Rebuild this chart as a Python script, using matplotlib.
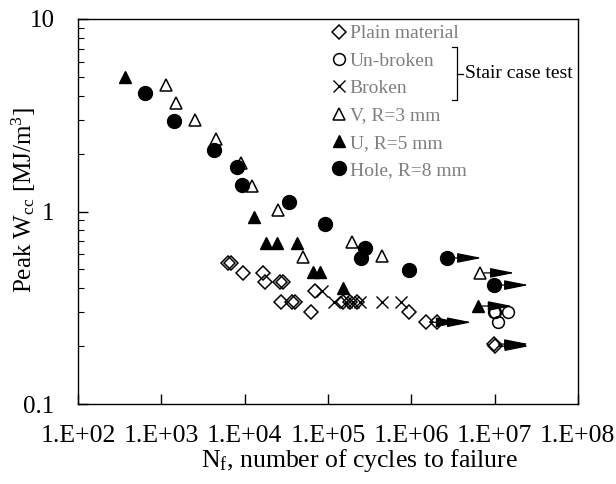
import matplotlib
matplotlib.use("Agg")
import matplotlib.pyplot as plt
from matplotlib.lines import Line2D

plt.rcParams['font.family'] = ['Liberation Serif', 'DejaVu Serif']
plt.rcParams['mathtext.fontset'] = 'custom'
plt.rcParams['mathtext.rm'] = 'Liberation Serif'
plt.rcParams['mathtext.it'] = 'Liberation Serif'

# --- data (cycles to failure, peak W_cc in MJ/m3) ---
plain_n = [6300, 6900, 9500, 16600, 17600, 26600, 29000, 27400, 37100, 40500,
           62600, 70000, 152000, 184000, 224000, 9.4e5]
plain_w = [0.54, 0.54, 0.48, 0.48, 0.43, 0.43, 0.43, 0.34, 0.34, 0.34,
           0.30, 0.385, 0.34, 0.34, 0.34, 0.30]
plain_run_n = [1.5e6, 2.04e6, 9.9e6, 1.0e7]
plain_run_w = [0.266, 0.266, 0.205, 0.20]

unbroken_n = [9.9e6, 1.0e7, 1.45e7, 1.1e7]
unbroken_w = [0.30, 0.30, 0.30, 0.267]

broken_n = [85000, 118000, 165000, 200000, 243000, 447000, 754000]
broken_w = [0.385, 0.34, 0.34, 0.34, 0.34, 0.34, 0.34]

v_n = [1140, 1500, 2540, 4540, 9060, 12300, 25100, 50000, 195000, 447000]
v_w = [4.54, 3.66, 2.99, 2.38, 1.79, 1.36, 1.02, 0.58, 0.695, 0.587]
v_run_n = [6.7e6]
v_run_w = [0.48]

u_n = [366, 13000, 18100, 24500, 42600, 66200, 80400, 152000]
u_w = [5.0, 0.935, 0.686, 0.686, 0.686, 0.485, 0.485, 0.40]
u_run_n = [6.3e6]
u_run_w = [0.323]

hole_n = [637, 1420, 4300, 8100, 9300, 34100, 92300, 279000, 250000, 9.4e5]
hole_w = [4.13, 2.95, 2.09, 1.70, 1.37, 1.12, 0.86, 0.646, 0.574, 0.497]
hole_run_n = [2.7e6, 9.9e6]
hole_run_w = [0.574, 0.415]

xtick_vals = [1e2, 1e3, 1e4, 1e5, 1e6, 1e7, 1e8]
xtick_labels = ["1.E+02", "1.E+03", "1.E+04", "1.E+05", "1.E+06", "1.E+07", "1.E+08"]
ytick_vals = [0.1, 1, 10]
ytick_labels = ["0.1", "1", "10"]

fig = plt.figure(figsize=(6.16, 4.84), dpi=100)
ax = fig.add_axes([0.127, 0.165, 0.811, 0.796])
ax.set_xscale('log')
ax.set_yscale('log')

open_kw = dict(mfc='none', mec='black', mew=1.1, ls='none')
fill_kw = dict(color='black', ls='none')

# run-out arrows first, markers on top
arrow_kw = dict(arrowstyle='-|>,head_length=1.0,head_width=0.2', color='black',
                lw=0.9, mutation_scale=15, shrinkA=0, shrinkB=0)
for nn, ww in [(plain_run_n, plain_run_w), (v_run_n, v_run_w), (u_run_n, u_run_w),
               (hole_run_n, hole_run_w)]:
    for n, w in zip(nn, ww):
        ax.annotate("", xy=(n * 2.6, w), xytext=(n * 1.12, w), arrowprops=arrow_kw, zorder=2)

ax.plot(plain_n + plain_run_n, plain_w + plain_run_w, marker='D', ms=7.5, **open_kw, zorder=3)
ax.plot(unbroken_n, unbroken_w, marker='o', ms=8.5, **open_kw, zorder=3)
ax.plot(broken_n, broken_w, marker='x', ms=9, mec='black', mew=1.0, ls='none', zorder=3)
ax.plot(v_n + v_run_n, v_w + v_run_w, marker='^', ms=9, **open_kw, zorder=3)
ax.plot(u_n + u_run_n, u_w + u_run_w, marker='^', ms=9, **fill_kw, zorder=3)
ax.plot(hole_n + hole_run_n, hole_w + hole_run_w, marker='o', ms=10, **fill_kw, zorder=3)

# axes styling
for side in ['left', 'bottom', 'right', 'top']:
    ax.spines[side].set_linewidth(1.0)
ax.tick_params(which='both', direction='in', top=False, right=False)
ax.tick_params(which='major', length=7, width=1.0, labelsize=18.5)
ax.tick_params(axis='x', which='major', pad=15)
ax.tick_params(axis='y', which='major', pad=17, labelsize=18)
ax.tick_params(which='minor', length=4, width=0.8)
ax.set_xticks(xtick_vals)
ax.set_xticklabels(xtick_labels)
ax.set_yticks(ytick_vals)
ax.set_yticklabels(ytick_labels)
ax.set_xlim(1e2, 1e8)
ax.set_ylim(0.1, 10)

ax.set_xlabel(r"N$_\mathrm{f}$, number of cycles to failure", fontsize=18.5, labelpad=0,
              x=0.562)
ax.set_ylabel(r"Peak W$_\mathrm{cc}$ [MJ/m$^\mathrm{3}$]", fontsize=18)
ax.yaxis.set_label_coords(-0.08, 0.53)

# legend
handles = [
    Line2D([], [], marker='D', ms=7.5, **open_kw),
    Line2D([], [], marker='o', ms=8.5, **open_kw),
    Line2D([], [], marker='x', ms=9, mec='black', mew=1.0, ls='none'),
    Line2D([], [], marker='^', ms=9, **open_kw),
    Line2D([], [], marker='^', ms=9, **fill_kw),
    Line2D([], [], marker='o', ms=10, **fill_kw),
]
labels = ["Plain material", "Un-broken", "Broken", "V, R=3 mm", "U, R=5 mm", "Hole, R=8 mm"]
ax.legend(handles, labels, loc='upper left', bbox_to_anchor=(0.499, 1.0), frameon=False,
          fontsize=14, labelcolor='#7f7f7f', handlelength=0.6, handletextpad=0.25,
          labelspacing=0.5, borderaxespad=0.15, borderpad=0.15)

# bracket for the stair case test
bx, by0, by1, bym = 0.758, 0.927, 0.79, 0.857
ax.plot([bx - 0.01, bx, bx, bx - 0.01], [by0, by0, by1, by1], color='black', lw=0.9,
        transform=ax.transAxes, clip_on=False)
ax.plot([bx, bx + 0.012], [bym, bym], color='black', lw=0.9, transform=ax.transAxes)
ax.text(bx + 0.016, bym, "Stair case test", transform=ax.transAxes, fontsize=14,
        va='center', ha='left', color='black')

fig.savefig("out.png", dpi=100)
